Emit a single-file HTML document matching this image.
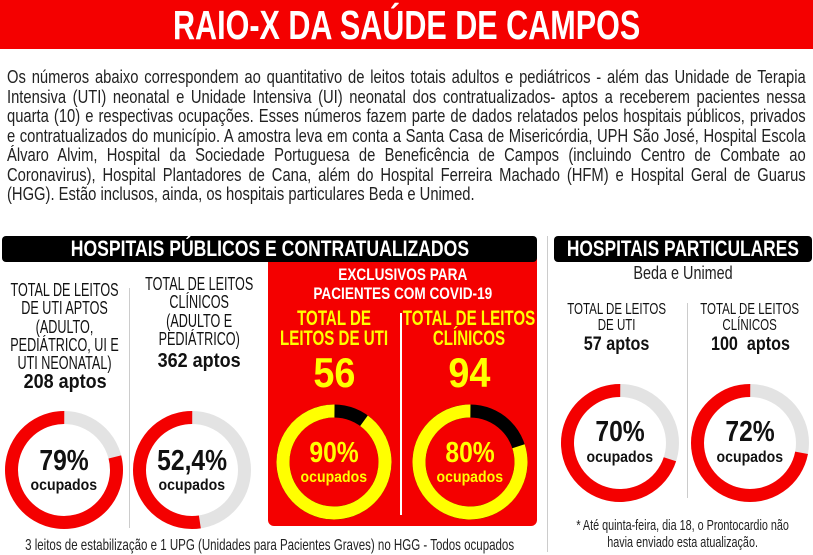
<!DOCTYPE html>
<html><head><meta charset="utf-8"><style>
*{margin:0;padding:0;box-sizing:border-box}
body{width:813px;height:555px;background:#fff;position:relative;overflow:hidden;font-family:"Liberation Sans",sans-serif;color:#111}
.a{position:absolute}
.s{position:absolute;display:flex;justify-content:center;white-space:nowrap}
.s>span{display:block;text-align:center;transform:scaleX(var(--k,0.7))}
.b{font-weight:bold}
.t{position:absolute;left:0;top:0;width:813px;height:49px;background:#f40000}
.p{position:absolute;left:7px;top:68px;width:974px;font-size:18px;line-height:19.5px;transform:scaleX(0.82);transform-origin:0 0;color:#222}
.p div{text-align:justify;text-align-last:justify;white-space:nowrap;height:19.5px}
.p div.l{text-align-last:left}
.bar{position:absolute;background:#000;border-radius:4px;color:#fff;font-weight:bold;font-size:22px;line-height:26px;height:26px}
</style></head><body>
<div class="t"></div>
<div class="s b" style="left:0;width:813px;top:2px;color:#fff;font-size:41px;--k:0.745"><span>RAIO-X DA SAÚDE DE CAMPOS</span></div>
<div class="p">
<div>Os números abaixo correspondem ao quantitativo de leitos totais adultos e pediátricos - além das Unidade de Terapia</div>
<div>Intensiva (UTI) neonatal e Unidade Intensiva (UI) neonatal dos contratualizados- aptos a receberem pacientes nessa</div>
<div>quarta (10) e respectivas ocupações. Esses números fazem parte de dados relatados pelos hospitais públicos, privados</div>
<div>e contratualizados do município. A amostra leva em conta a Santa Casa de Misericórdia, UPH São José, Hospital Escola</div>
<div>Álvaro Alvim, Hospital da Sociedade Portuguesa de Beneficência de Campos (incluindo Centro de Combate ao</div>
<div>Coronavirus), Hospital Plantadores de Cana, além do Hospital Ferreira Machado (HFM) e Hospital Geral de Guarus</div>
<div class="l">(HGG). Estão inclusos, ainda, os hospitais particulares Beda e Unimed.</div>
</div>

<div class="a" style="left:268px;top:258px;width:269px;height:268px;background:#f40000;border-radius:0 0 6px 6px"></div>
<div class="bar" style="left:2px;top:236px;width:535px"></div>
<div class="s b" style="left:2px;width:535px;top:236px;color:#fff;font-size:22px;line-height:26px;--k:0.8"><span>HOSPITAIS PÚBLICOS E CONTRATUALIZADOS</span></div>
<div class="bar" style="left:554px;top:236px;width:258px"></div>
<div class="s b" style="left:554px;width:258px;top:236px;color:#fff;font-size:22px;line-height:26px;--k:0.79"><span>HOSPITAIS PARTICULARES</span></div>
<div class="a" style="left:547px;top:236px;width:1px;height:316px;background:#ccc"></div>
<div class="a" style="left:129px;top:288px;width:1px;height:240px;background:#ccc"></div>
<div class="a" style="left:400px;top:313px;width:2px;height:202px;background:#fff"></div>
<div class="a" style="left:687px;top:303px;width:1px;height:195px;background:#ccc"></div>

<div class="s" style="left:0;width:130px;top:281px;font-size:18px;line-height:18.3px"><span>TOTAL DE LEITOS<br>DE UTI APTOS<br>(ADULTO,<br>PEDIÁTRICO, UI E<br>UTI NEONATAL)</span></div>
<div class="s b" style="left:0;width:130px;top:371px;font-size:20px;--k:0.9"><span>208 aptos</span></div>
<div class="s" style="left:130px;width:138px;top:275px;font-size:18px;line-height:18.3px"><span>TOTAL DE LEITOS<br>CLÍNICOS<br>(ADULTO E<br>PEDIÁTRICO)</span></div>
<div class="s b" style="left:130px;width:138px;top:350px;font-size:20px;--k:0.9"><span>362 aptos</span></div>

<div class="s b" style="left:268px;width:269px;top:265px;color:#fff;font-size:17px;line-height:19px;--k:0.8"><span>EXCLUSIVOS PARA<br>PACIENTES COM COVID-19</span></div>
<div class="s b" style="left:268px;width:133px;top:309px;color:#ff0;font-size:21px;line-height:20px;--k:0.72"><span>TOTAL DE<br>LEITOS DE UTI</span></div>
<div class="s b" style="left:401px;width:136px;top:309px;color:#ff0;font-size:21px;line-height:20px;--k:0.72"><span>TOTAL DE LEITOS<br>CLÍNICOS</span></div>
<div class="s b" style="left:268px;width:133px;top:351px;color:#ff0;font-size:42px;line-height:44px;--k:0.9"><span>56</span></div>
<div class="s b" style="left:401px;width:136px;top:351px;color:#ff0;font-size:42px;line-height:44px;--k:0.9"><span>94</span></div>

<div class="s" style="left:554px;width:258px;top:263px;font-size:18px;color:#222;--k:0.8"><span>Beda e Unimed</span></div>
<div class="s" style="left:547px;width:140px;top:302px;font-size:16px;line-height:16px;--k:0.72"><span>TOTAL DE LEITOS<br>DE UTI</span></div>
<div class="s b" style="left:547px;width:140px;top:334px;font-size:19px;--k:0.85"><span>57 aptos</span></div>
<div class="s" style="left:688px;width:124px;top:302px;font-size:16px;line-height:16px;--k:0.72"><span>TOTAL DE LEITOS<br>CLÍNICOS</span></div>
<div class="s b" style="left:688px;width:124px;top:334px;font-size:19px;--k:0.85"><span>100&nbsp; aptos</span></div>

<svg class="a" style="left:0;top:0" width="813" height="555">
<g fill="none" stroke-width="13">
<circle cx="64" cy="470" r="52.5" stroke="#e3e3e3"/>
<circle cx="64" cy="470" r="52.5" stroke="#f40000" stroke-dasharray="260.6 400" transform="rotate(-14.4 64 470)"/>
<circle cx="192" cy="470" r="52.5" stroke="#e3e3e3"/>
<circle cx="192" cy="470" r="52.5" stroke="#f40000" stroke-dasharray="172.9 400" transform="rotate(81.4 192 470)"/>
<circle cx="334" cy="462" r="51" stroke="#000"/>
<circle cx="334" cy="462" r="51" stroke="#ff0" stroke-dasharray="288.4 400" transform="rotate(-54 334 462)"/>
<circle cx="470" cy="462" r="51" stroke="#000"/>
<circle cx="470" cy="462" r="51" stroke="#ff0" stroke-dasharray="256.4 400" transform="rotate(-18 470 462)"/>
<circle cx="620" cy="443" r="52.5" stroke="#e3e3e3"/>
<circle cx="620" cy="443" r="52.5" stroke="#f40000" stroke-dasharray="230.9 400" transform="rotate(18 620 443)"/>
<circle cx="750" cy="443" r="52.5" stroke="#e3e3e3"/>
<circle cx="750" cy="443" r="52.5" stroke="#f40000" stroke-dasharray="237.5 400" transform="rotate(10.8 750 443)"/>
</g>
</svg>

<div class="s b" style="left:14px;width:100px;top:445px;font-size:29px;--k:0.85"><span>79%</span></div>
<div class="s b" style="left:14px;width:100px;top:477px;font-size:16px;--k:0.88"><span>ocupados</span></div>
<div class="s b" style="left:142px;width:100px;top:445px;font-size:29px;--k:0.85"><span>52,4%</span></div>
<div class="s b" style="left:142px;width:100px;top:477px;font-size:16px;--k:0.88"><span>ocupados</span></div>
<div class="s b" style="left:284px;width:100px;top:437px;font-size:29px;color:#ff0;--k:0.85"><span>90%</span></div>
<div class="s b" style="left:284px;width:100px;top:469px;font-size:16px;color:#ff0;--k:0.88"><span>ocupados</span></div>
<div class="s b" style="left:420px;width:100px;top:437px;font-size:29px;color:#ff0;--k:0.85"><span>80%</span></div>
<div class="s b" style="left:420px;width:100px;top:469px;font-size:16px;color:#ff0;--k:0.88"><span>ocupados</span></div>
<div class="s b" style="left:570px;width:100px;top:416px;font-size:29px;--k:0.85"><span>70%</span></div>
<div class="s b" style="left:570px;width:100px;top:449px;font-size:16px;--k:0.88"><span>ocupados</span></div>
<div class="s b" style="left:700px;width:100px;top:416px;font-size:29px;--k:0.85"><span>72%</span></div>
<div class="s b" style="left:700px;width:100px;top:449px;font-size:16px;--k:0.88"><span>ocupados</span></div>

<div class="s" style="left:0;width:540px;top:537px;font-size:16px;color:#222;--k:0.72"><span>3 leitos de estabilização e 1 UPG (Unidades para Pacientes Graves) no HGG - Todos ocupados</span></div>
<div class="s" style="left:554px;width:258px;top:517px;font-size:15px;line-height:17px;color:#222;--k:0.72"><span>* Até quinta-feira, dia 18, o Prontocardio não<br>havia enviado esta atualização.</span></div>
</body></html>
